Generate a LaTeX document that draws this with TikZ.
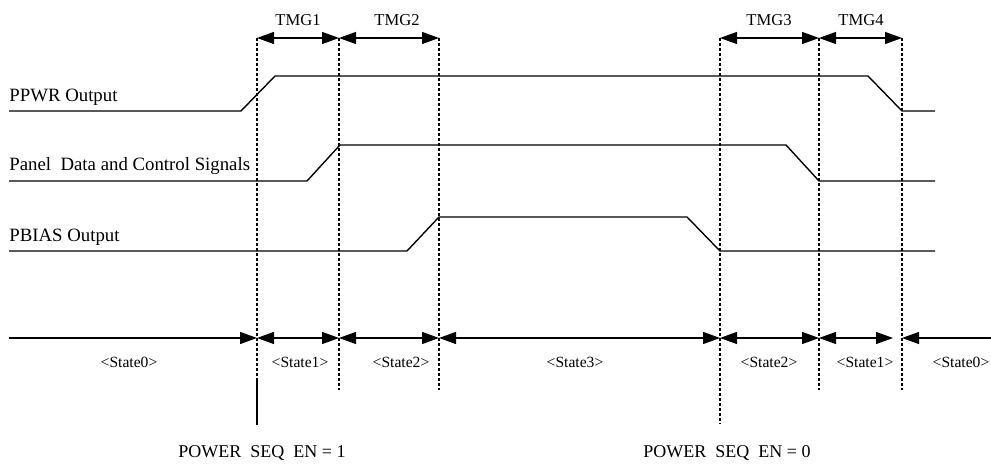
\documentclass[tikz,border=0pt]{standalone}
\usepackage{fontspec}
\setmainfont{Liberation Serif}
\usetikzlibrary{arrows.meta}
\tikzset{
    wave/.style={ % duong tin hieu
        line width=0.7pt
    },
    guide/.style={ % duong chia thoi diem
        line width=0.6pt,
        dash pattern=on 1.5pt off 1pt
    },
    span/.style={ % mui ten hai dau
        line width=0.6pt,
        {Triangle[length=8.5pt,width=6pt]}-{Triangle[length=8.5pt,width=6pt]}
    },
    halfspan/.style={ % mui ten mot dau
        line width=0.6pt,
        -{Triangle[length=8.5pt,width=6pt]}
    },
    sigtext/.style={ % ten tin hieu
        anchor=west,
        inner sep=0pt,
        font=\fontsize{9.4}{11}\selectfont
    },
    tmgtext/.style={
        inner sep=0pt,
        font=\fontsize{8.3}{10}\selectfont
    },
    statetext/.style={
        inner sep=0pt,
        font=\fontsize{7.8}{9}\selectfont
    },
    entext/.style={
        inner sep=0pt,
        font=\fontsize{9}{11}\selectfont
    }
}

\begin{document}
\begin{tikzpicture}[x=0.5pt,y=-0.5pt]
        \useasboundingbox (0,0) rectangle (991,469);

        % cac thoi diem chuyen trang thai
        \foreach \n/\x in {1/257,2/339,3/439,4/720,5/819,6/902} {
                \coordinate (top\n) at (\x,38);
                \coordinate (mid\n) at (\x,338);
                \coordinate (bot\n) at (\x,390);
        }
        \coordinate (low1) at (257,378);
        \coordinate (end1) at (257,425);
        \coordinate (low4) at (720,424);

        \draw[guide] (top1) -- (low1);
        \draw[line width=0.6pt] (low1) -- (end1);
        \draw[guide] (top2) -- (bot2);
        \draw[guide] (top3) -- (bot3);
        \draw[guide] (top4) -- (low4);
        \draw[guide] (top5) -- (bot5);
        \draw[guide] (top6) -- (bot6);

        % cac tin hieu
        \node[sigtext] (ppwr) at (9,97) {PPWR Output};
        \draw[wave] (9,111) -- (241,111) -- (275,76) -- (868,76) -- (902,111) -- (935,111);

        \node[sigtext] (panel) at (9,166) {Panel~ Data and Control Signals};
        \draw[wave] (9,181) -- (307,181) -- (340,145) -- (786,145) -- (819,181) -- (935,181);

        \node[sigtext] (pbias) at (9,237) {PBIAS Output};
        \draw[wave] (9,251) -- (407,251) -- (439,217) -- (687,217) -- (720,251) -- (935,251);

        % khoang thoi gian TMG
        \draw[span] (top1) -- (top2);
        \draw[span] (top2) -- (top3);
        \draw[span] (top4) -- (top5);
        \draw[span] (top5) -- (top6);
        \node[tmgtext] (tmg1) at (298,20) {TMG1};
        \node[tmgtext] (tmg2) at (397,20) {TMG2};
        \node[tmgtext] (tmg3) at (769,20) {TMG3};
        \node[tmgtext] (tmg4) at (861,20) {TMG4};

        % cac trang thai
        \coordinate (left0) at (9,338);
        \coordinate (right1) at (893,338);
        \coordinate (right0) at (991,338);
        \draw[halfspan] (left0) -- (mid1);
        \draw[span] (mid1) -- (mid2);
        \draw[span] (mid2) -- (mid3);
        \draw[span] (mid3) -- (mid4);
        \draw[span] (mid4) -- (mid5);
        \draw[span] (mid5) -- (right1);
        \draw[halfspan] (right0) -- (mid6);

        \node[statetext] (st0a) at (129,362) {<State0>};
        \node[statetext] (st1a) at (300,362) {<State1>};
        \node[statetext] (st2a) at (401,362) {<State2>};
        \node[statetext] (st3) at (575,362) {<State3>};
        \node[statetext] (st2b) at (769,362) {<State2>};
        \node[statetext] (st1b) at (865,362) {<State1>};
        \node[statetext] (st0b) at (961,362) {<State0>};

        \node[entext] (enon) at (262,453) {POWER~~SEQ~~EN = 1};
        \node[entext] (enoff) at (727,453) {POWER~~SEQ~~EN = 0};

\end{tikzpicture}
\end{document}
